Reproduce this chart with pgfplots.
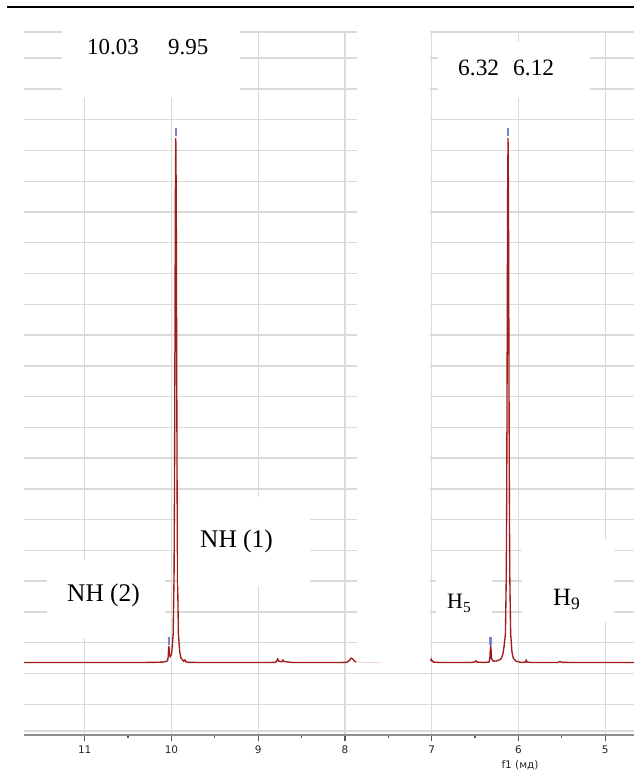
\documentclass[border=0pt]{standalone}
\usepackage{fontspec}
\setmainfont{Liberation Serif}
\newfontfamily\dejavu{DejaVu Sans}
\usepackage{pgfplots}
\pgfplotsset{compat=1.18}
\definecolor{spec}{RGB}{160,28,28}
\definecolor{pk}{RGB}{120,130,205}
\definecolor{gridc}{RGB}{218,218,218}

\begin{document}
\begin{tikzpicture}[x=1bp,y=1bp]
\useasboundingbox (0,0) rectangle (634,778);
\begin{axis}[
  at={(24bp,43bp)}, anchor=south west,
  scale only axis, width=610bp, height=703bp,
  xmin=4.668, xmax=11.70, x dir=reverse,
  ymin=0, ymax=22.85,
  axis line style={draw=none},
  xtick={5,6,7,8,9,10,11}, minor x tick num=1,
  xtick pos=left, tick align=outside,
  major tick length=6bp, minor tick length=3bp,
  every tick/.style={color=black!65, line width=1.2bp},
  ytick={0.13,1,2,3,4,5,6,7,8,9,10,11,12,13,14,15,16,17,18,19,20,21,22,22.85},
  yticklabels={}, ytick style={draw=none},
  grid=major,
  major grid style={color=gridc, line width=1.4bp},
  xticklabel style={font=\dejavu\fontsize{10.5}{12}\selectfont, text=black!85, yshift=-1bp},
  /pgf/number format/assume math mode=true,
]
  % blank strip between 7.9 and 7.0 ppm
  \fill[white] (axis cs:7.865,2.24) rectangle (axis cs:7.015,23.5);

  % spectrum, left part
  \addplot[spec, line width=1.35bp] coordinates {
    (11.70,2.355) (10.60,2.355) (10.20,2.36) (10.10,2.37) (10.06,2.39)
    (10.045,2.42) (10.037,2.55) (10.033,2.80) (10.03,2.89) (10.027,2.80)
    (10.022,2.60) (10.015,2.55) (10.00,2.62) (9.99,2.9) (9.98,3.3)
    (9.97,5.2) (9.965,8.0) (9.96,12.5) (9.955,17.5) (9.95,19.40)
    (9.945,17.5) (9.94,12.5) (9.935,8.0) (9.93,5.2) (9.92,3.3)
    (9.905,2.7) (9.89,2.5) (9.86,2.40) (9.845,2.44) (9.835,2.38)
    (9.80,2.36) (9.50,2.355) (9.00,2.355) (8.80,2.36) (8.785,2.42)
    (8.775,2.47) (8.765,2.40) (8.73,2.38) (8.715,2.44) (8.705,2.39)
    (8.60,2.355) (8.20,2.355) (7.98,2.36) (7.95,2.42) (7.93,2.50)
    (7.91,2.47) (7.89,2.40) (7.87,2.37)
  };
  \addplot[spec!18, line width=1bp] coordinates {(7.87,2.37) (7.75,2.36) (7.60,2.355)};

  % spectrum, right part
  \addplot[spec, line width=1.35bp] coordinates {
    (7.012,2.40) (7.005,2.46) (7.00,2.43) (6.98,2.37) (6.90,2.355)
    (6.55,2.355) (6.50,2.38) (6.49,2.41) (6.48,2.37) (6.40,2.36)
    (6.34,2.37) (6.33,2.48) (6.325,2.75) (6.32,2.89) (6.315,2.75)
    (6.31,2.50) (6.30,2.42) (6.28,2.40) (6.25,2.41) (6.22,2.44)
    (6.20,2.48) (6.18,2.62) (6.165,2.9) (6.15,3.3) (6.14,5.2)
    (6.135,8.0) (6.13,12.5) (6.125,17.5) (6.12,19.40) (6.115,17.5)
    (6.11,12.5) (6.105,8.0) (6.10,5.2) (6.09,3.3) (6.075,2.7)
    (6.06,2.5) (6.03,2.40) (5.97,2.36) (5.92,2.37) (5.91,2.43)
    (5.90,2.37) (5.85,2.355) (5.55,2.355) (5.52,2.39) (5.50,2.36)
    (5.20,2.355) (4.668,2.355)
  };

  % peak markers
  \addplot[pk, line width=2.6bp] coordinates {(9.95,19.46) (9.95,19.72)};
  \addplot[pk, line width=2.6bp] coordinates {(6.12,19.46) (6.12,19.72)};
  \addplot[pk, line width=2.6bp] coordinates {(10.03,2.94) (10.03,3.18)};
  \addplot[pk, line width=2.6bp] coordinates {(6.32,2.94) (6.32,3.18)};
\end{axis}

% frame lines
\draw[black, line width=2.3bp] (7,771) -- (634,771);
\draw[black!45, line width=2bp] (24,43) -- (634,43);

% annotation boxes and labels (pixel coordinates, y downwards)
\begin{scope}[yshift=778bp, y=-1bp]
  \fill[white] (62,26) rectangle (240,98);
  \fill[white] (438,42) rectangle (590,98);
  \fill[white] (178,497) rectangle (310,586);
  \fill[white] (47,560) rectangle (165,638);
  \fill[white] (436,562) rectangle (492,626);
  \fill[white] (522,540) rectangle (614,622);

  \node[anchor=base west, inner sep=0, font=\fontsize{23}{27}\selectfont] at (87,55) {10.03};
  \node[anchor=base west, inner sep=0, font=\fontsize{23}{27}\selectfont] at (168,55) {9.95};
  \node[anchor=base west, inner sep=0, font=\fontsize{23.5}{27}\selectfont] at (458,76) {6.32};
  \node[anchor=base west, inner sep=0, font=\fontsize{23.5}{27}\selectfont] at (513,76) {6.12};
  \node[anchor=base west, inner sep=0, font=\fontsize{25.5}{29}\selectfont] at (200,548) {NH (1)};
  \node[anchor=base west, inner sep=0, font=\fontsize{25.5}{29}\selectfont] at (67,602) {NH (2)};
  \node[anchor=base west, inner sep=0, font=\fontsize{22}{26}\selectfont] at (447,609) {H\textsubscript{5}};
  \node[anchor=base west, inner sep=0, font=\fontsize{25}{29}\selectfont] at (553,606) {H\textsubscript{9}};

  \node[anchor=base, inner sep=0, text=black!85, font=\dejavu\fontsize{10.5}{12}\selectfont] at (520,769) {f1 (мд)};
\end{scope}
\end{tikzpicture}
\end{document}
